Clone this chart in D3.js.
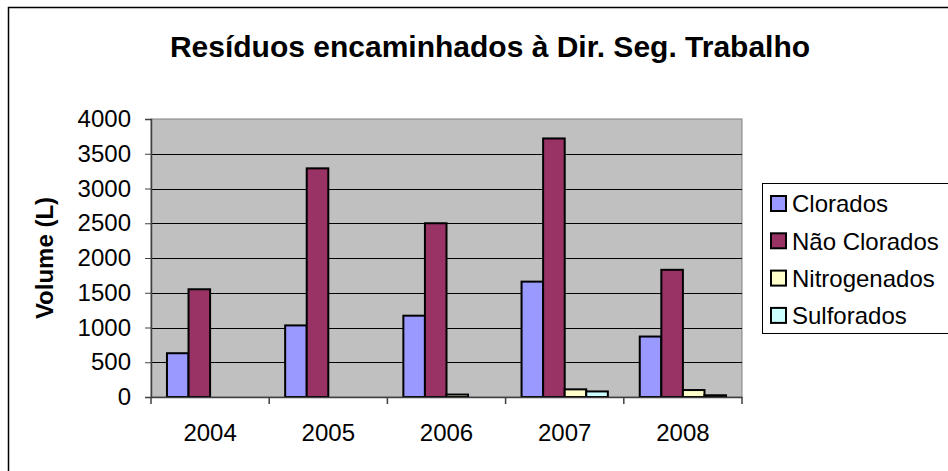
<!DOCTYPE html>
<html>
<head>
<meta charset="utf-8">
<script src="https://cdn.jsdelivr.net/npm/d3@7"></script>
<style>
body { margin: 0; background: #fff; }
svg text { font-family: "Liberation Sans", Arial, sans-serif; fill: #000; }
</style>
</head>
<body>
<div id="chart"></div>
<script>
// data
var years = ["2004", "2005", "2006", "2007", "2008"];
var series = ["Clorados", "Não Clorados", "Nitrogenados", "Sulforados"];
var clorados = [630, 1030, 1170, 1660, 870];
var naoClorados = [1550, 3290, 2500, 3720, 1830];
var nitrogenados = [0, 0, 35, 110, 100];
var sulforados = [0, 0, 0, 80, 25];
var yTicks = [0, 500, 1000, 1500, 2000, 2500, 3000, 3500, 4000];
var colors = ["#9999ff", "#993366", "#ffffcc", "#ccffff"];

var values = [clorados, naoClorados, nitrogenados, sulforados];

var W = 948, H = 471;
var margin = {top: 119, right: 206, bottom: 74, left: 151},
width = W - margin.left - margin.right,
height = H - margin.top - margin.bottom;

var svg = d3.select("#chart").append("svg")
    .attr("width", W)
    .attr("height", H);

// outer chart frame (runs off the right / bottom edge)
svg.append("rect")
    .attr("x", 8.5).attr("y", 7.5)
    .attr("width", W + 20).attr("height", H + 20)
    .attr("fill", "none").attr("stroke", "#000").attr("stroke-width", 1.5);

svg.append("text")
    .attr("x", 490).attr("y", 57)
    .attr("text-anchor", "middle")
    .style("font-size", "30px").style("font-weight", "bold")
    .text("Resíduos encaminhados à Dir. Seg. Trabalho");

var g = svg.append("g")
    .attr("transform", "translate(" + margin.left + "," + margin.top + ")");

var x0 = d3.scaleBand().domain(years).range([0, width]).paddingInner(0.27).paddingOuter(0.135);
var x1 = d3.scaleBand().domain(series).range([0, x0.bandwidth()]);
var y = d3.scaleLinear().domain([0, 4000]).range([height, 0]);

// plot background
g.append("rect")
    .attr("width", width).attr("height", height)
    .attr("fill", "#c0c0c0")
    .attr("stroke", "#808080").attr("stroke-width", 1);

// gridlines
g.append("g").selectAll("line")
    .data(yTicks.filter(function(d) { return d > 0 && d < 4000; }))
    .enter().append("line")
    .attr("x1", 0).attr("x2", width)
    .attr("y1", function(d) { return Math.round(y(d)) + 0.5; })
    .attr("y2", function(d) { return Math.round(y(d)) + 0.5; })
    .attr("stroke", "#000").attr("stroke-width", 1);

// bars
var groups = g.append("g").selectAll("g")
    .data(years)
    .enter().append("g")
    .attr("transform", function(d) { return "translate(" + x0(d) + ",0)"; });

groups.selectAll("rect")
    .data(function(d, i) {
        return series.map(function(s, j) { return {key: s, value: values[j][i], j: j}; });
    })
    .enter().filter(function(d) { return d.value > 0; }).append("rect")
    .attr("x", function(d) { return x1(d.key); })
    .attr("y", function(d) { return y(d.value); })
    .attr("width", x1.bandwidth())
    .attr("height", function(d) { return height - y(d.value); })
    .attr("fill", function(d) { return colors[d.j]; })
    .attr("stroke", "#000").attr("stroke-width", 2);

// y axis
var yAxis = g.append("g")
    .call(d3.axisLeft(y).tickValues(yTicks).tickSize(6).tickPadding(14).tickFormat(d3.format("d")));
yAxis.select(".domain").attr("stroke", "#404040").attr("stroke-width", 1.5);
yAxis.selectAll(".tick line").attr("stroke", "#404040");
yAxis.selectAll("text").style("font-size", "24px").attr("fill", "#000");

// x axis
var xAxis = g.append("g")
    .attr("transform", "translate(0," + height + ")")
    .call(d3.axisBottom(x0).tickSize(0).tickPadding(27));
xAxis.select(".domain").attr("stroke", "#404040").attr("stroke-width", 1.5);
xAxis.selectAll("text").style("font-size", "24px").attr("fill", "#000");
// category boundary ticks
xAxis.selectAll(".bound")
    .data(d3.range(years.length + 1))
    .enter().append("line")
    .attr("class", "bound")
    .attr("x1", function(i) { return i * width / years.length; })
    .attr("x2", function(i) { return i * width / years.length; })
    .attr("y1", 0).attr("y2", 7)
    .attr("stroke", "#404040").attr("stroke-width", 1.5);

// y title
svg.append("text")
    .attr("transform", "translate(53,258) rotate(-90)")
    .attr("text-anchor", "middle")
    .style("font-size", "24px").style("font-weight", "bold")
    .text("Volume (L)");

// legend
var legend = svg.append("g");
legend.append("rect")
    .attr("x", 762.5).attr("y", 183.5)
    .attr("width", 200).attr("height", 150)
    .attr("fill", "#fff").attr("stroke", "#000").attr("stroke-width", 1);

var item = legend.selectAll(".item")
    .data(series)
    .enter().append("g")
    .attr("class", "item")
    .attr("transform", function(d, i) { return "translate(771," + (204 + i * 37.3) + ")"; });
item.append("rect")
    .attr("x", 0).attr("y", -8).attr("width", 15).attr("height", 15)
    .attr("fill", function(d, i) { return colors[i]; })
    .attr("stroke", "#000").attr("stroke-width", 2);
item.append("text")
    .attr("x", 21).attr("dy", "0.35em")
    .style("font-size", "24px")
    .text(function(d) { return d; });
</script>
</body>
</html>
